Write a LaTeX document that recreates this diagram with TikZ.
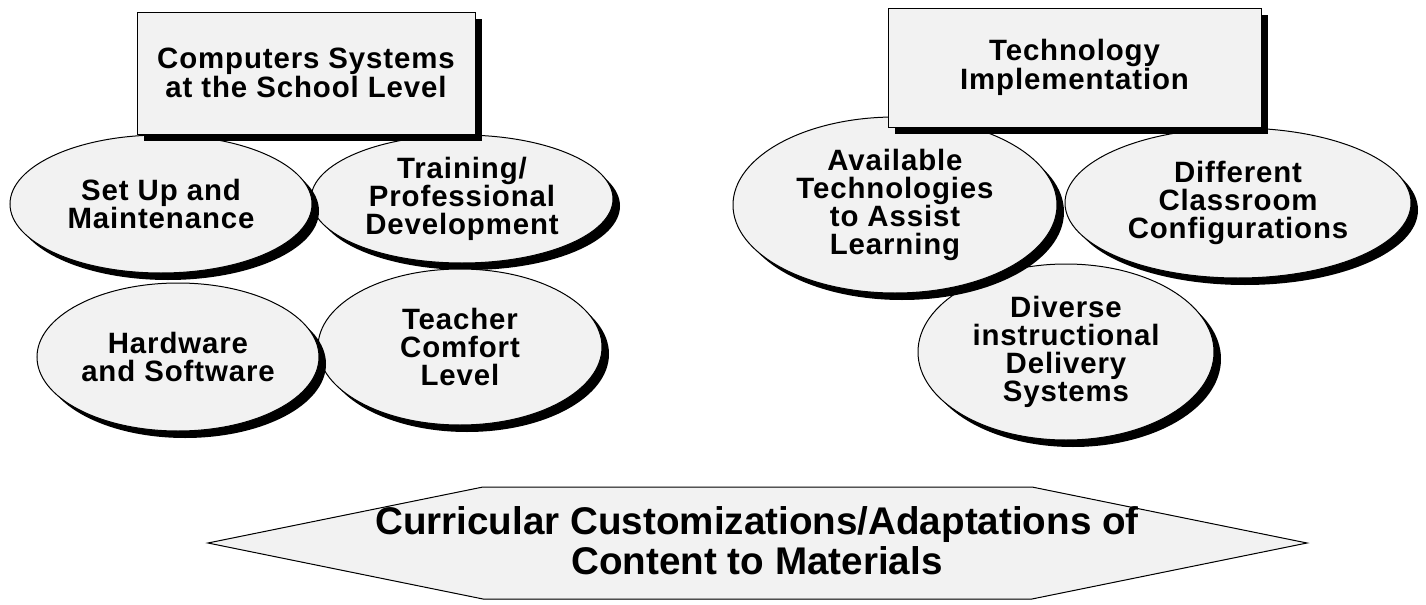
\documentclass[tikz,border=0pt]{standalone}
\usepackage{fontspec}
\setmainfont{Liberation Sans}
\newfontfamily\labfont{Liberation Sans}[LetterSpace=3]
\usetikzlibrary{shapes.geometric,shadows}
\definecolor{boxgray}{HTML}{F2F2F2}
\tikzset{
  base/.style={draw=black, line width=0.5pt, fill=boxgray, inner sep=0pt,
    align=center, font=\labfont\bfseries\fontsize{14.7pt}{14pt}\selectfont,
    general shadow={fill=black, shadow xshift=3.5pt, shadow yshift=-3.5pt}},
  oval/.style={base, ellipse},
  headbox/.style={base, rectangle, font=\labfont\bfseries\fontsize{14.7pt}{14.5pt}\selectfont},
  bigtext/.style={align=center, inner sep=0pt,
    font=\bfseries\fontsize{19.3pt}{20pt}\selectfont}
}
\begin{document}
\begin{tikzpicture}[x=0.5pt,y=-0.5pt]
\useasboundingbox (0,0) rectangle (1426,605);
% left group
\node[oval, minimum width=151pt, minimum height=64pt] (train) at (462,199) {Training/\\Professional\\Development};
\node[oval, minimum width=151pt, minimum height=69pt] (setup) at (161,204) {Set Up and\\Maintenance};
\node[oval, minimum width=142pt, minimum height=78pt] (comfort) at (460,347) {Teacher\\Comfort\\Level};
\node[oval, minimum width=141pt, minimum height=74pt] (hard) at (178,357) {Hardware\\and Software};
% right group
\node[oval, minimum width=148pt, minimum height=88pt] (diverse) at (1066,352) {Diverse\\instructional\\Delivery\\Systems};
\node[oval, minimum width=162pt, minimum height=88pt] (avail) at (895,205) {Available\\Technologies\\to Assist\\Learning};
\node[oval, minimum width=173pt, minimum height=75pt] (diff) at (1238,203) {Different\\Classroom\\Configurations};
% heading boxes
\node[headbox, minimum width=169pt, minimum height=61pt] (comp) at (306,73) {Computers Systems\\at the School Level};
\node[headbox, minimum width=186.5pt, minimum height=59.5pt] (tech) at (1074.5,67.5) {Technology\\Implementation};
% bottom hexagon
\coordinate (hL) at (208,543);
\coordinate (hTL) at (483,487);
\coordinate (hTR) at (1032,487);
\coordinate (hR) at (1307,543);
\coordinate (hBR) at (1032,599);
\coordinate (hBL) at (483,599);
\fill[black, shift={(6.5,6.5)}] (hL) -- (hTL) -- (hTR) -- (hR) -- (hBR) -- (hBL) -- cycle;
\filldraw[fill=boxgray, draw=black, line width=0.5pt] (hL) -- (hTL) -- (hTR) -- (hR) -- (hBR) -- (hBL) -- cycle;
\node[bigtext] (curr) at (757,541) {Curricular Customizations/Adaptations of\\Content to Materials};
\end{tikzpicture}
\end{document}
